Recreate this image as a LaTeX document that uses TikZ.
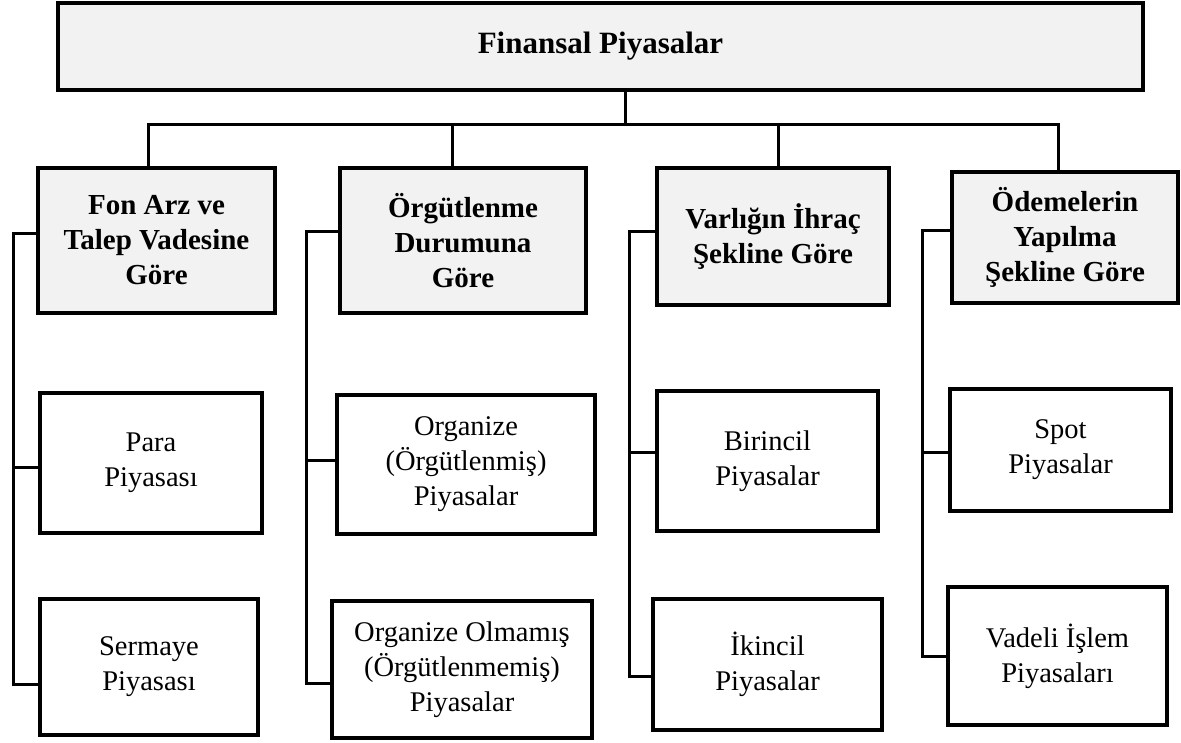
\documentclass[tikz,border=0pt]{standalone}
\usepackage{fontspec}
\setmainfont{Liberation Serif}
\usetikzlibrary{calc}
\definecolor{boxgray}{HTML}{F2F2F2}
\tikzset{
  rootbox/.style={draw, line width=3.5pt, fill=boxgray, align=center,
    font=\fontsize{31}{36}\selectfont\bfseries, inner sep=0pt},
  catbox/.style={draw, line width=3.5pt, fill=boxgray, align=center,
    font=\fontsize{29}{35}\selectfont\bfseries, inner sep=0pt},
  leafbox/.style={draw, line width=3.5pt, fill=white, align=center,
    font=\fontsize{28.5}{35}\selectfont, inner sep=0pt},
  link/.style={line width=3pt},
}
\begin{document}
\begin{tikzpicture}[x=1pt,y=-1pt]
\useasboundingbox[fill=white] (0,0) rectangle (1181,742);

% root
\node[rootbox, minimum width=1085pt, minimum height=87pt] (root) at (600.5,46.5) {Finansal Piyasalar};

% categories
\node[catbox, minimum width=237pt, minimum height=145pt] (c1) at (156.5,240.5) {Fon Arz ve\\Talep Vadesine\\Göre};
\node[catbox, minimum width=246pt, minimum height=145pt] (c2) at (463,240.5) {Örgütlenme\\Durumuna\\Göre};
\node[catbox, minimum width=232pt, minimum height=137pt] (c3) at (773,236.5) {Varlığın İhraç\\Şekline Göre};
\node[catbox, minimum width=226pt, minimum height=131pt] (c4) at (1065,237.5) {Ödemelerin\\Yapılma\\Şekline Göre};

% leaves
\node[leafbox, minimum width=222pt, minimum height=140pt] (p1) at (151,463) {Para\\Piyasası};
\node[leafbox, minimum width=218pt, minimum height=136pt] (p2) at (149,667) {Sermaye\\Piyasası};
\node[leafbox, minimum width=258pt, minimum height=139pt] (o1) at (466,464.5) {Organize\\(Örgütlenmiş)\\Piyasalar};
\node[leafbox, minimum width=260pt, minimum height=137pt] (o2) at (462,669.5) {Organize Olmamış\\(Örgütlenmemiş)\\Piyasalar};
\node[leafbox, minimum width=221pt, minimum height=140pt] (b1) at (767.5,461) {Birincil\\Piyasalar};
\node[leafbox, minimum width=229pt, minimum height=131pt] (b2) at (767.5,664.5) {İkincil\\Piyasalar};
\node[leafbox, minimum width=221pt, minimum height=122pt] (s1) at (1060.5,450) {Spot\\Piyasalar};
\node[leafbox, minimum width=219pt, minimum height=138pt] (s2) at (1057.5,656) {Vadeli İşlem\\Piyasaları};

% top-level tree
\coordinate (hub) at (625,124);
\coordinate (d1) at ($(c1.north)+(-8.5,0)$);
\coordinate (d2) at ($(c2.north)+(-11,0)$);
\coordinate (d3) at ($(c3.north)+(5,0)$);
\coordinate (d4) at ($(c4.north)+(-7,0)$);
\draw[link] (root.south -| hub) -- (hub);
\draw[link] (d1) |- (hub) -| (d4);
\draw[link] (d2) -- (d2 |- hub);
\draw[link] (d3) -- (d3 |- hub);

% column 1 bracket
\coordinate (k1) at (13,0);
\coordinate (e1) at ($(c1.west)+(0,-7.5)$);
\coordinate (a1) at ($(p1.west)+(0,4)$);
\coordinate (z1) at ($(p2.west)+(0,17)$);
\draw[link] (e1) -- (e1 -| k1) |- (z1);
\draw[link] (a1 -| k1) -- (a1);

% column 2 bracket
\coordinate (k2) at (306,0);
\coordinate (e2) at ($(c2.west)+(0,-9.5)$);
\coordinate (a2) at ($(o1.west)+(0,-4.5)$);
\coordinate (z2) at ($(o2.west)+(0,13.5)$);
\draw[link] (e2) -- (e2 -| k2) |- (z2);
\draw[link] (a2 -| k2) -- (a2);

% column 3 bracket
\coordinate (k3) at (629,0);
\coordinate (e3) at ($(c3.west)+(0,-5.5)$);
\coordinate (a3) at ($(b1.west)+(0,-9)$);
\coordinate (z3) at ($(b2.west)+(0,11.5)$);
\draw[link] (e3) -- (e3 -| k3) |- (z3);
\draw[link] (a3 -| k3) -- (a3);

% column 4 bracket
\coordinate (k4) at (922,0);
\coordinate (e4) at ($(c4.west)+(0,-7.5)$);
\coordinate (a4) at ($(s1.west)+(0,2)$);
\coordinate (z4) at (s2.west);
\draw[link] (e4) -- (e4 -| k4) |- (z4);
\draw[link] (a4 -| k4) -- (a4);
\end{tikzpicture}
\end{document}
